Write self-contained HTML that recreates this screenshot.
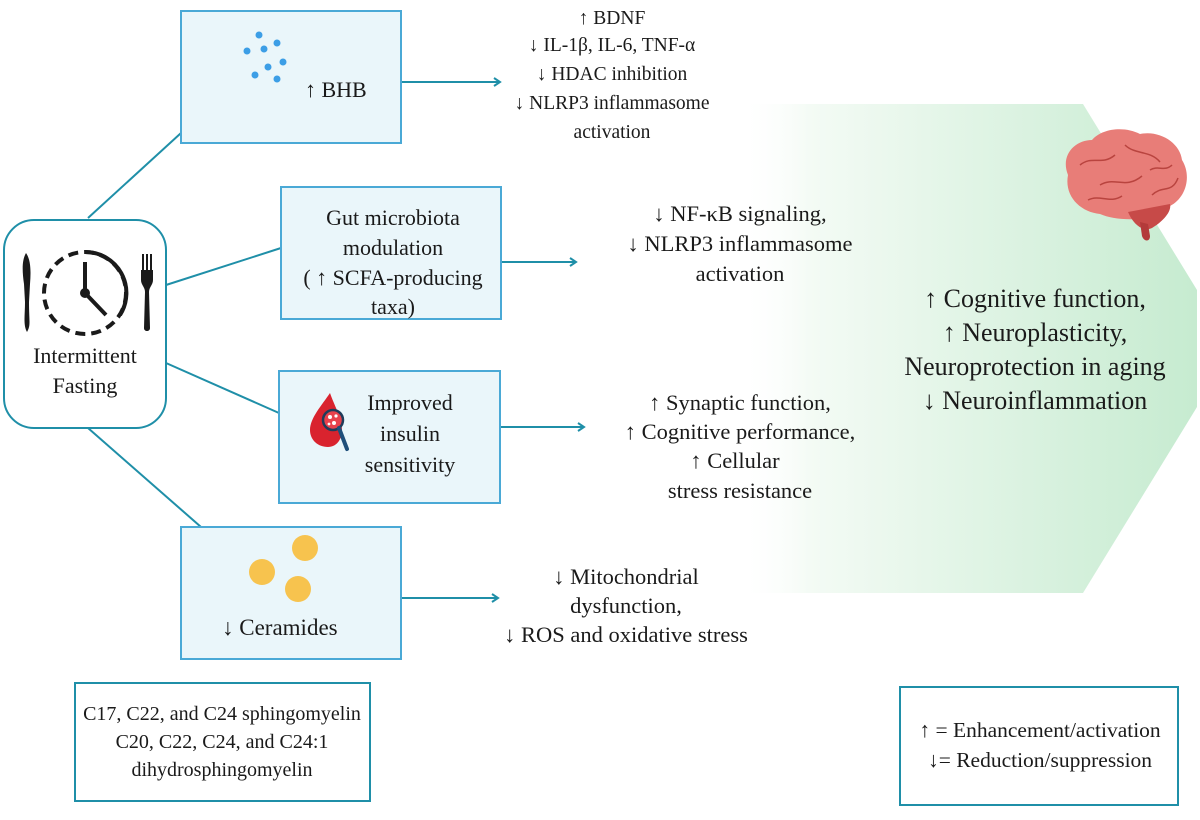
<!DOCTYPE html>
<html><head><meta charset="utf-8"><style>
body{margin:0;width:1200px;height:815px;background:#fff;overflow:hidden;font-family:"Liberation Serif","DejaVu Serif",serif;color:#1a1a1a}
</style></head><body>
<svg width="1200" height="815" viewBox="0 0 1200 815" xmlns="http://www.w3.org/2000/svg" font-family="Liberation Serif, DejaVu Serif, serif" fill="#1a1a1a">
<defs>
<linearGradient id="g" x1="0" x2="1" y1="0" y2="0">
<stop offset="0" stop-color="#ffffff" stop-opacity="0"/>
<stop offset="0.15" stop-color="#f4fbf5"/>
<stop offset="1" stop-color="#c6ebd0"/>
</linearGradient>
</defs>
<polygon points="740,104 1083,104 1197,290 1197,407 1083,593 740,593" fill="url(#g)"/>
<g stroke="#1f8fa8" stroke-width="2" fill="none">
<line x1="88" y1="218" x2="181" y2="133"/>
<line x1="166" y1="285" x2="281" y2="248"/>
<line x1="166" y1="363" x2="279" y2="413"/>
<line x1="88" y1="428" x2="201" y2="527"/>
<line x1="401" y1="82" x2="500" y2="82"/>
<line x1="501" y1="262" x2="576" y2="262"/>
<line x1="500" y1="427" x2="584" y2="427"/>
<line x1="401" y1="598" x2="498" y2="598"/>
<polyline points="494,78 500,82 494,86"/>
<polyline points="570,258 576,262 570,266"/>
<polyline points="578,423 584,427 578,431"/>
<polyline points="492,594 498,598 492,602"/>
</g>
<rect x="4" y="220" width="162" height="208" rx="30" fill="#fff" stroke="#1f8fa8" stroke-width="2"/>
<g fill="#eaf6fa" stroke="#4aa9d6" stroke-width="2">
<rect x="181" y="11" width="220" height="132"/>
<rect x="281" y="187" width="220" height="132"/>
<rect x="279" y="371" width="221" height="132"/>
<rect x="181" y="527" width="220" height="132"/>
</g>
<rect x="75" y="683" width="295" height="118" fill="#fff" stroke="#1f8fa8" stroke-width="2"/>
<rect x="900" y="687" width="278" height="118" fill="#fff" stroke="#1f8fa8" stroke-width="2"/>
<!-- clock icon -->
<g fill="#1a1a1a">
<path d="M26,253 C31,260 31,272 30,284 L29,302 C29,322 31,325 27,332 C23,325 25,315 25,302 L24,284 C22,270 22,260 26,253Z"/>
<rect x="142" y="254" width="2" height="20"/><rect x="146" y="254" width="2" height="20"/><rect x="150" y="254" width="2" height="20"/>
<path d="M141,270 L153,270 L153,280 C153,285 149,287 149,292 L150,328 C150,332 144,332 144,328 L145,292 C145,287 141,285 141,280Z"/>
</g>
<circle cx="85" cy="293" r="41" fill="none" stroke="#1a1a1a" stroke-width="4" stroke-dasharray="10 6"/>
<path d="M85,252 A41,41 0 0 1 120,315" fill="none" stroke="#1a1a1a" stroke-width="4"/>
<line x1="85" y1="262" x2="85" y2="293" stroke="#1a1a1a" stroke-width="4"/>
<line x1="85" y1="293" x2="106" y2="315" stroke="#1a1a1a" stroke-width="4"/>
<circle cx="85" cy="293" r="5"/>
<text x="85" y="363" font-size="22" text-anchor="middle">Intermittent</text>
<text x="85" y="393" font-size="22" text-anchor="middle">Fasting</text>
<!-- BHB dots -->
<g fill="#3c9ee6">
<circle cx="259" cy="35" r="3.5"/><circle cx="277" cy="43" r="3.5"/><circle cx="247" cy="51" r="3.5"/><circle cx="264" cy="49" r="3.5"/>
<circle cx="283" cy="62" r="3.5"/><circle cx="268" cy="67" r="3.5"/><circle cx="255" cy="75" r="3.5"/><circle cx="277" cy="79" r="3.5"/>
</g>
<text x="305" y="97" font-size="22">↑ BHB</text>
<g font-size="22" text-anchor="middle">
<text x="393" y="225">Gut microbiota</text>
<text x="393" y="255">modulation</text>
<text x="393" y="285">( ↑ SCFA-producing</text>
<text x="393" y="314">taxa)</text>
<text x="410" y="410">Improved</text>
<text x="410" y="441">insulin</text>
<text x="410" y="472">sensitivity</text>
</g>
<!-- blood drop -->
<path d="M330,393 C322,405 310,418 310,430 C310,440 318,447 328,447 C336,447 342,440 342,430 C342,418 334,405 330,393Z" fill="#d9232e"/>
<circle cx="333" cy="420" r="10" fill="#e8424c" stroke="#1f3c5a" stroke-width="2.5"/>
<g fill="#fff"><circle cx="330" cy="417" r="2"/><circle cx="336" cy="416" r="1.6"/><circle cx="334" cy="423" r="2"/><circle cx="329" cy="424" r="1.4"/></g>
<line x1="339" y1="428" x2="347" y2="449" stroke="#1f4f7a" stroke-width="4" stroke-linecap="round"/>
<!-- ceramides -->
<g fill="#f7c34e"><circle cx="305" cy="548" r="13"/><circle cx="262" cy="572" r="13"/><circle cx="298" cy="589" r="13"/></g>
<text x="222" y="635" font-size="23">↓ Ceramides</text>
<!-- right side texts -->
<g font-size="19.5" text-anchor="middle">
<text x="612" y="24">↑ BDNF</text>
<text x="612" y="51">↓ IL-1β, IL-6, TNF-α</text>
<text x="612" y="80">↓ HDAC inhibition</text>
<text x="612" y="109">↓ NLRP3 inflammasome</text>
<text x="612" y="138">activation</text>
</g>
<g font-size="22.5" text-anchor="middle">
<text x="740" y="221">↓ NF-κB signaling,</text>
<text x="740" y="251">↓ NLRP3 inflammasome</text>
<text x="740" y="281">activation</text>
<text x="740" y="410">↑ Synaptic function,</text>
<text x="740" y="439">↑ Cognitive performance,</text>
<text x="735" y="468">↑ Cellular</text>
<text x="740" y="498">stress resistance</text>
<text x="626" y="584">↓ Mitochondrial</text>
<text x="626" y="613">dysfunction,</text>
<text x="626" y="642">↓ ROS and oxidative stress</text>
</g>
<g font-size="26" text-anchor="middle">
<text x="1035" y="307">↑ Cognitive function,</text>
<text x="1035" y="341">↑ Neuroplasticity,</text>
<text x="1035" y="375">Neuroprotection in aging</text>
<text x="1035" y="409">↓ Neuroinflammation</text>
</g>
<!-- brain -->
<g>
<path d="M1068,175 C1060,155 1075,140 1092,140 C1102,128 1125,126 1140,134 C1160,130 1180,143 1182,160 C1192,176 1186,198 1170,206 C1158,222 1118,222 1100,214 C1080,212 1064,196 1068,175Z" fill="#e87d78"/>
<path d="M1128,212 C1134,226 1144,232 1152,228 C1162,222 1172,212 1170,204Z" fill="#c74a48"/>
<path d="M1140,222 L1142,236 C1144,242 1150,242 1150,236 L1148,224Z" fill="#b33a3a"/>
<g fill="none" stroke="#b9443f" stroke-width="1.5">
<path d="M1080,165 C1092,155 1102,166 1115,155"/><path d="M1100,185 C1115,176 1125,190 1142,176"/>
<path d="M1125,145 C1135,155 1150,150 1160,162"/><path d="M1152,195 C1162,185 1172,194 1178,178"/>
<path d="M1088,200 C1100,194 1110,204 1122,196"/><path d="M1150,170 C1158,165 1165,172 1172,165"/>
</g>
</g>
<g font-size="20" text-anchor="middle">
<text x="222" y="720">C17, C22, and C24 sphingomyelin</text>
<text x="222" y="748">C20, C22, C24, and C24:1</text>
<text x="222" y="776">dihydrosphingomyelin</text>
</g>
<g font-size="21.5" text-anchor="middle">
<text x="1040" y="737">↑ = Enhancement/activation</text>
<text x="1040" y="767">↓= Reduction/suppression</text>
</g>
</svg>
</body></html>
